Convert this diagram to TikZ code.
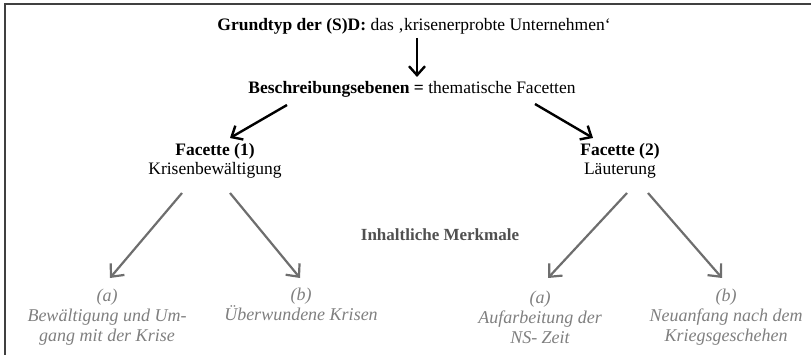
\documentclass[tikz,border=0pt]{standalone}
\usepackage{fontspec}
\setmainfont{Liberation Serif}
\usetikzlibrary{arrows.meta}
\definecolor{fgray}{HTML}{7F7F7F}
\definecolor{agray}{HTML}{6E6E6E}
\definecolor{tgray}{HTML}{505050}
\definecolor{frame}{HTML}{404040}
\begin{document}
\begin{tikzpicture}[x=1pt,y=-1pt,
  main/.style={font=\fontsize{17.5}{19}\selectfont, inner sep=1pt, align=center},
  facet/.style={font=\fontsize{17.5}{19}\selectfont, inner sep=1pt, align=center},
  item/.style={font=\fontsize{18}{20}\selectfont\itshape, text=fgray, inner sep=1pt, align=center},
  label/.style={font=\fontsize{17}{19}\selectfont\bfseries, text=tgray, inner sep=1pt},
  blackarrow/.style={line width=2.4pt, -{Straight Barb[length=9pt,width=16pt,line width=2.4pt]}},
  grayarrow/.style={draw=agray, line width=2.2pt, -{Straight Barb[length=10pt,width=18pt,line width=2.2pt]}}
]
\useasboundingbox (0,0) rectangle (811,355);
\draw[frame, line width=1.5pt] (811,4) -- (5,4) -- (5,355);

\node[main] (top) at (414,26) {\textbf{Grundtyp der (S)D:} das ‚krisenerprobte Unternehmen‘};
\node[main] (mid) at (412,89) {\textbf{Beschreibungsebenen =} thematische Facetten};
\node[facet] (f1) at (215,161) {\textbf{Facette (1)}\\Krisenbewältigung};
\node[facet] (f2) at (620,161) {\textbf{Facette (2)}\\Läuterung};
\node[label] (im) at (440,235) {Inhaltliche Merkmale};

\node[item] (a1) at (107,317) {(a)\\Bewältigung und Um-\\gang mit der Krise};
\node[item, anchor=north] (b1) at (301,287) {(b)\\Überwundene Krisen};
\node[item] (a2) at (540,317) {(a)\\Aufarbeitung der\\NS- Zeit};
\node[item] (b2) at (726,317) {(b)\\Neuanfang nach dem\\Kriegsgeschehen};

\coordinate (t0) at (417,38);
\coordinate (t1) at (417,77);
\draw[blackarrow] (t0) -- (t1);
\coordinate (l0) at (287,105);
\coordinate (l1) at (230,138);
\draw[blackarrow] (l0) -- (l1);
\coordinate (r0) at (535,104);
\coordinate (r1) at (593,138);
\draw[blackarrow] (r0) -- (r1);

\coordinate (ga0) at (182,193); \coordinate (ga1) at (110,278);
\coordinate (gb0) at (230,193); \coordinate (gb1) at (300,278);
\coordinate (gc0) at (627,193); \coordinate (gc1) at (548,278);
\coordinate (gd0) at (648,193); \coordinate (gd1) at (722,278);
\draw[grayarrow] (ga0) -- (ga1);
\draw[grayarrow] (gb0) -- (gb1);
\draw[grayarrow] (gc0) -- (gc1);
\draw[grayarrow] (gd0) -- (gd1);
\end{tikzpicture}
\end{document}
